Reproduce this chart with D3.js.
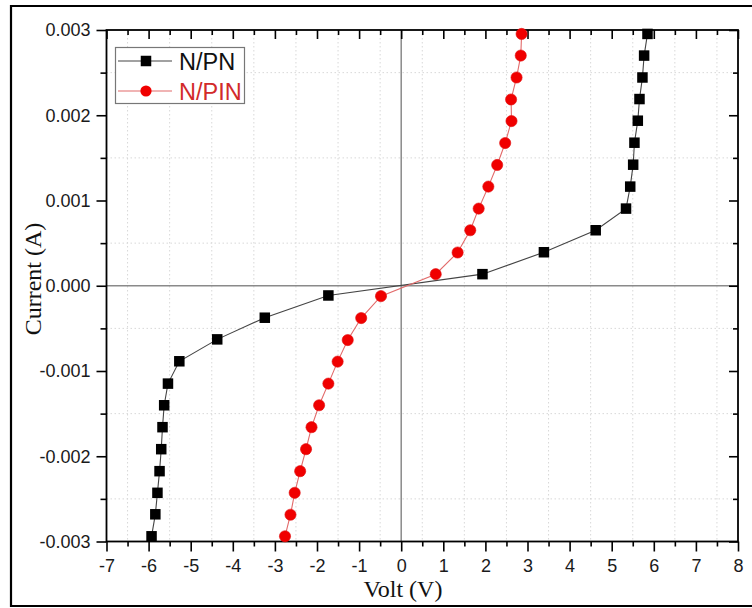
<!DOCTYPE html>
<html>
<head>
<meta charset="utf-8">
<script src="https://cdn.jsdelivr.net/npm/d3@7"></script>
<style>
  html, body { margin: 0; padding: 0; background: #fff; }
  svg { display: block; }
</style>
</head>
<body>
<svg id="chart" width="752" height="608"></svg>
<script>
// I–V sweep of the two junctions
const pnVolt = [-5.93, -5.84, -5.79, -5.74, -5.70, -5.67, -5.63, -5.54, -5.27, -4.37, -3.24, -1.73,
                1.93, 3.39, 4.62, 5.34, 5.44, 5.51, 5.54, 5.62, 5.66, 5.73, 5.77, 5.85];
const pnCurrent = [-0.002939, -0.002681, -0.002429, -0.002175, -0.001917, -0.001659, -0.001402, -0.001148,
                   -0.000886, -0.000629, -0.000375, -0.000114,
                   0.000136, 0.000393, 0.000651, 0.000905, 0.001163, 0.001420, 0.001678, 0.001936,
                   0.002190, 0.002443, 0.002700, 0.002954];
const pinVolt = [-2.76, -2.63, -2.53, -2.40, -2.26, -2.13, -1.95, -1.73, -1.51, -1.27, -0.95, -0.48,
                 0.82, 1.34, 1.64, 1.84, 2.07, 2.28, 2.47, 2.62, 2.61, 2.74, 2.84, 2.86];
const pinCurrent = [-0.002939, -0.002686, -0.002429, -0.002175, -0.001917, -0.001659, -0.001402, -0.001148,
                    -0.000890, -0.000637, -0.000379, -0.000122,
                    0.000136, 0.000390, 0.000651, 0.000905, 0.001163, 0.001417, 0.001674, 0.001932,
                    0.002185, 0.002443, 0.002700, 0.002954];
const seriesNames = ["N/PN", "N/PIN"];

const xTicks = [-7, -6, -5, -4, -3, -2, -1, 0, 1, 2, 3, 4, 5, 6, 7, 8];
const xTickLabels = ["-7", "-6", "-5", "-4", "-3", "-2", "-1", "0", "1", "2", "3", "4", "5", "6", "7", "8"];
const yTicks = [-0.003, -0.002, -0.001, 0, 0.001, 0.002, 0.003];
const yTickLabels = ["-0.003", "-0.002", "-0.001", "0.000", "0.001", "0.002", "0.003"];
const xTitle = "Volt (V)";
const yTitle = "Current (A)";

const svg = d3.select("#chart");
const L = 106.5, R = 738, T = 30, B = 541.5;
const x = d3.scaleLinear().domain([-7, 8]).range([L, R]);
const y = d3.scaleLinear().domain([-0.003, 0.003]).range([B, T]);

const xMinor = d3.range(-6.5, 8, 1);
const yMinor = d3.range(-0.0025, 0.003, 0.001);

// outer frame (left, top, bottom edges)
svg.append("path")
  .attr("d", "M 760 6 L 11 6 L 11 606 L 760 606")
  .attr("fill", "none").attr("stroke", "#000").attr("stroke-width", 2.2);

// faint dotted grid at the half steps
const grid = svg.append("g").attr("stroke", "#d8d8d8").attr("stroke-width", 1)
  .attr("stroke-dasharray", "1.5,2.5");
grid.selectAll("line.gx").data(xMinor).join("line")
  .attr("x1", d => x(d)).attr("x2", d => x(d)).attr("y1", T).attr("y2", B);
grid.selectAll("line.gy").data(yMinor).join("line")
  .attr("y1", d => y(d)).attr("y2", d => y(d)).attr("x1", L).attr("x2", R);

// zero lines
svg.append("line").attr("x1", x(0)).attr("x2", x(0)).attr("y1", T).attr("y2", B)
  .attr("stroke", "#8a8a8a").attr("stroke-width", 1.5);
svg.append("line").attr("x1", L).attr("x2", R).attr("y1", y(0)).attr("y2", y(0))
  .attr("stroke", "#8a8a8a").attr("stroke-width", 1.5);

const axisFont = "'Liberation Sans', Arial, sans-serif";
function styleAxis(g) {
  g.select(".domain").remove();
  g.selectAll("line").attr("stroke", "#000").attr("stroke-width", 1.6);
  g.selectAll("text").attr("fill", "#1a1a1a")
    .style("font-family", axisFont).style("font-size", "18px");
}

// bottom
svg.append("g").attr("transform", `translate(0,${B})`)
  .call(d3.axisBottom(x).tickValues(xMinor).tickSize(5).tickFormat(""))
  .call(styleAxis);
svg.append("g").attr("transform", `translate(0,${B})`)
  .call(d3.axisBottom(x).tickValues(xTicks).tickSize(10).tickPadding(8)
    .tickFormat((d, i) => xTickLabels[i]))
  .call(styleAxis);
// top (inward)
svg.append("g").attr("transform", `translate(0,${T})`)
  .call(d3.axisTop(x).tickValues(xMinor).tickSize(-5).tickFormat(""))
  .call(styleAxis);
svg.append("g").attr("transform", `translate(0,${T})`)
  .call(d3.axisTop(x).tickValues(xTicks).tickSize(-9).tickFormat(""))
  .call(styleAxis);
// left
svg.append("g").attr("transform", `translate(${L},0)`)
  .call(d3.axisLeft(y).tickValues(yMinor).tickSize(6).tickFormat(""))
  .call(styleAxis);
svg.append("g").attr("transform", `translate(${L},0)`)
  .call(d3.axisLeft(y).tickValues(yTicks).tickSize(10).tickPadding(6)
    .tickFormat((d, i) => yTickLabels[i]))
  .call(styleAxis);
// right (inward)
svg.append("g").attr("transform", `translate(${R},0)`)
  .call(d3.axisRight(y).tickValues(yMinor).tickSize(-5).tickFormat(""))
  .call(styleAxis);
svg.append("g").attr("transform", `translate(${R},0)`)
  .call(d3.axisRight(y).tickValues(yTicks).tickSize(-9).tickFormat(""))
  .call(styleAxis);

// axis frame lines
svg.append("rect").attr("x", L).attr("y", T).attr("width", R - L).attr("height", B - T)
  .attr("fill", "none").attr("stroke", "#000").attr("stroke-width", 1.8);

// titles
const serif = "'Liberation Serif', 'Times New Roman', serif";
svg.append("text").attr("x", 403).attr("y", 597).attr("text-anchor", "middle")
  .style("font-family", serif).style("font-size", "24px")
  .attr("fill", "#111").text(xTitle);
svg.append("text").attr("transform", "translate(41,279) rotate(-90)").attr("text-anchor", "middle")
  .style("font-family", serif).style("font-size", "24px")
  .attr("fill", "#111").text(yTitle);

// series
const pnData = pnVolt.map((v, i) => [v, pnCurrent[i]]);
const pinData = pinVolt.map((v, i) => [v, pinCurrent[i]]);
const line = d3.line().x(d => x(d[0])).y(d => y(d[1]));

svg.append("path").datum(pnData).attr("d", line)
  .attr("fill", "none").attr("stroke", "#444").attr("stroke-width", 1.1);
svg.append("path").datum(pinData).attr("d", line)
  .attr("fill", "none").attr("stroke", "#e26a6a").attr("stroke-width", 1.1);

const sq = 10.5;
svg.append("g").selectAll("rect").data(pnData).join("rect")
  .attr("x", d => x(d[0]) - sq / 2).attr("y", d => y(d[1]) - sq / 2)
  .attr("width", sq).attr("height", sq).attr("fill", "#000");
svg.append("g").selectAll("circle").data(pinData).join("circle")
  .attr("cx", d => x(d[0])).attr("cy", d => y(d[1])).attr("r", 5.6)
  .attr("fill", "#f00000").attr("stroke", "#e01010").attr("stroke-width", 0.6);

// legend
const lg = svg.append("g");
lg.append("rect").attr("x", 115.5).attr("y", 47.5).attr("width", 129).attr("height", 56)
  .attr("fill", "#fff").attr("stroke", "#777").attr("stroke-width", 1.2);
const rows = [
  { name: seriesNames[0], yy: 61, line: "#444", text: "#111", shape: "sq" },
  { name: seriesNames[1], yy: 91, line: "#e26a6a", text: "#d22a2a", shape: "ci" }
];
rows.forEach(r => {
  lg.append("line").attr("x1", 118).attr("x2", 172).attr("y1", r.yy).attr("y2", r.yy)
    .attr("stroke", r.line).attr("stroke-width", 1.1);
  if (r.shape === "sq") {
    lg.append("rect").attr("x", 146 - sq / 2).attr("y", r.yy - sq / 2).attr("width", sq).attr("height", sq)
      .attr("fill", "#000");
  } else {
    lg.append("circle").attr("cx", 146).attr("cy", r.yy).attr("r", 5.6).attr("fill", "#f00000");
  }
  lg.append("text").attr("x", 179).attr("y", r.yy + 8.5).attr("fill", r.text)
    .style("font-family", axisFont).style("font-size", "23.5px").text(r.name);
});
</script>
</body>
</html>
